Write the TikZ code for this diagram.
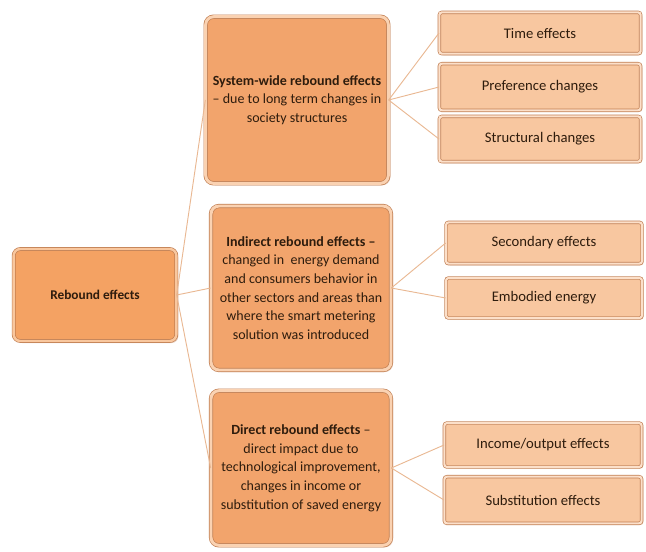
\documentclass[tikz,border=0pt]{standalone}
\usepackage{fontspec}
\setmainfont{Carlito}
\usetikzlibrary{positioning,shadows}
\definecolor{rootfill}{HTML}{F4A263}
\definecolor{rootrim}{HTML}{F9C79E}
\definecolor{midcore}{HTML}{F2A46C}
\definecolor{midrim}{HTML}{FAD2B2}
\definecolor{leafcore}{HTML}{F8C7A0}
\definecolor{leafrim}{HTML}{FCE0CA}
\definecolor{edgecol}{HTML}{C07E52}
\definecolor{linkcol}{HTML}{E9B893}
\definecolor{textcol}{HTML}{2E1C0D}

\begin{document}
\begin{tikzpicture}[x=0.75pt,y=-0.75pt]
\tikzstyle{rootbox}=[draw=edgecol,double=rootrim,double distance=1.8pt,line width=.5pt,rounded corners=5pt,fill=rootfill,text=textcol,font=\fontsize{10}{13}\selectfont\bfseries,minimum width=122pt,minimum height=69pt,drop shadow={shadow xshift=1.5pt,shadow yshift=-1.5pt,opacity=.35,fill=edgecol}]
\tikzstyle{midbox}=[draw=edgecol,double=midrim,double distance=2.2pt,line width=.5pt,rounded corners=6pt,fill=midcore,text=textcol,font=\fontsize{10.5}{14}\selectfont,align=center,drop shadow={shadow xshift=1.5pt,shadow yshift=-1.5pt,opacity=.35,fill=edgecol}]
\tikzstyle{leafbox}=[draw=edgecol,double=leafrim,double distance=1.6pt,line width=.5pt,rounded corners=2pt,fill=leafcore,text=textcol,font=\fontsize{11}{13}\selectfont,drop shadow={shadow xshift=1.2pt,shadow yshift=-1.2pt,opacity=.35,fill=edgecol}]
\tikzstyle{link}=[draw=linkcol,line width=.7pt]
    \useasboundingbox (0,0) rectangle (646,551);
    % root and the three kinds of rebound
    \node[rootbox] (root) at (95,295) {Rebound effects};
    \node[midbox,minimum width=137pt,minimum height=125pt] (sys) at (297,100)
        {\textbf{System-wide rebound effects}\\ -- due to long term changes in\\ society structures};
    \node[midbox,minimum width=135pt,minimum height=123pt] (ind) at (301,288)
        {\textbf{Indirect rebound effects --}\\ changed in\ \ energy demand\\ and consumers behavior in\\ other sectors and areas than\\ where the smart metering\\ solution was introduced};
    \node[midbox,minimum width=135pt,minimum height=116pt] (dir) at (301,468)
        {\textbf{Direct rebound effects} --\\ direct impact due to\\ technological improvement,\\ changes in income or\\ substitution of saved energy};
    % leaves
    \node[leafbox,minimum width=151pt,minimum height=31pt] (time) at (540,33) {Time effects};
    \node[leafbox,minimum width=151pt,minimum height=35pt] (pref) at (540,87) {Preference changes};
    \node[leafbox,minimum width=151pt,minimum height=34pt] (struct) at (540,139) {Structural changes};
    \node[leafbox,minimum width=147pt,minimum height=31pt] (sec) at (544,243) {Secondary effects};
    \node[leafbox,minimum width=147pt,minimum height=30pt] (emb) at (544,298) {Embodied energy};
    \node[leafbox,minimum width=148pt,minimum height=33pt] (inc) at (543,445) {Income/output effects};
    \node[leafbox,minimum width=148pt,minimum height=35pt] (sub) at (543,500) {Substitution effects};
    % connectors
    \draw[link] (root.east) to (sys.west);
    \draw[link] (root.east) to (ind.west);
    \draw[link] (root.east) to (dir.west);
    \draw[link] (sys.east) to (time.west);
    \draw[link] (sys.east) to (pref.west);
    \draw[link] (sys.east) to (struct.west);
    \draw[link] (ind.east) to (sec.west);
    \draw[link] (ind.east) to (emb.west);
    \draw[link] (dir.east) to (inc.west);
    \draw[link] (dir.east) to (sub.west);
  \end{tikzpicture}
\end{document}
